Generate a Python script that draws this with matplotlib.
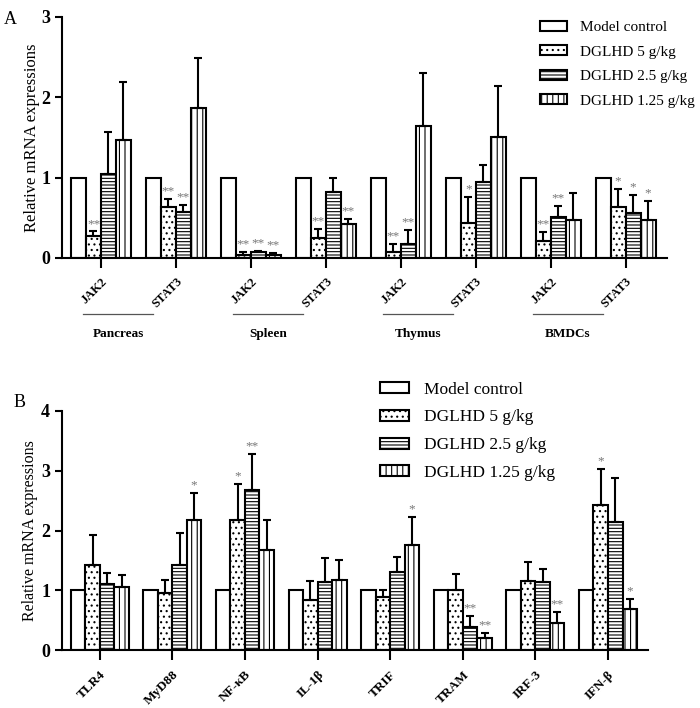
import numpy as np
import matplotlib
matplotlib.use('Agg')
import matplotlib.pyplot as plt
from matplotlib.patches import Patch

plt.rcParams['font.family'] = ['Liberation Serif', 'DejaVu Serif']
plt.rcParams['hatch.linewidth'] = 0.8

# ---- data ----
series = ['Model control', 'DGLHD 5 g/kg', 'DGLHD 2.5 g/kg', 'DGLHD 1.25 g/kg']
hatches = ['', '...', '-----', '|||']

# panel A
genes_a = ['JAK2', 'STAT3', 'JAK2', 'STAT3', 'JAK2', 'STAT3', 'JAK2', 'STAT3']
organs = ['Pancreas', 'Spleen', 'Thymus', 'BMDCs']
mc_a = [1, 1, 1, 1, 1, 1, 1, 1]
d5_a = [0.28, 0.64, 0.04, 0.25, 0.08, 0.44, 0.21, 0.64]
d25_a = [1.05, 0.57, 0.07, 0.82, 0.18, 0.95, 0.51, 0.56]
d125_a = [1.47, 1.87, 0.04, 0.42, 1.64, 1.51, 0.47, 0.47]
e5_a = [0.05, 0.10, 0.03, 0.11, 0.10, 0.32, 0.11, 0.22]
e25_a = [0.52, 0.09, 0.02, 0.18, 0.17, 0.21, 0.14, 0.22]
e125_a = [0.72, 0.62, 0.02, 0.06, 0.66, 0.63, 0.34, 0.24]
sig5_a = ['**', '**', '**', '**', '**', '*', '**', '*']
sig25_a = ['', '**', '**', '', '**', '', '**', '*']
sig125_a = ['', '', '**', '**', '', '', '', '*']

# panel B
genes_b = ['TLR4', 'MyD88', 'NF-κB', 'IL-1β', 'TRIF', 'TRAM', 'IRF-3', 'IFN-β']
mc_b = [1, 1, 1, 1, 1, 1, 1, 1]
d5_b = [1.43, 0.96, 2.18, 0.83, 0.89, 1.01, 1.16, 2.43]
d25_b = [1.11, 1.42, 2.68, 1.13, 1.31, 0.38, 1.14, 2.14]
d125_b = [1.06, 2.18, 1.68, 1.17, 1.76, 0.20, 0.45, 0.69]
e5_b = [0.50, 0.22, 0.60, 0.32, 0.12, 0.27, 0.32, 0.60]
e25_b = [0.18, 0.54, 0.60, 0.41, 0.25, 0.19, 0.21, 0.74]
e125_b = [0.20, 0.44, 0.50, 0.34, 0.46, 0.08, 0.19, 0.16]
sig5_b = ['', '', '*', '', '', '', '', '*']
sig25_b = ['', '', '**', '', '', '**', '', '']
sig125_b = ['', '*', '', '', '*', '**', '**', '*']

fig = plt.figure(figsize=(7.0, 7.08), dpi=100)
axA = fig.add_axes([0.0886, 0.6356, 0.864, 0.3404])
axB = fig.add_axes([0.0886, 0.0819, 0.837, 0.3376])

width = 0.2
offsets = [-0.3, -0.1, 0.1, 0.3]


def draw_panel(ax, genes, vals, errs, sigs, ymax, star_off):
    x = np.arange(len(genes))
    for i in range(4):
        xi = x + offsets[i]
        ax.bar(xi, vals[i], width, color='white', edgecolor='black',
               linewidth=1.5, hatch=hatches[i], zorder=2)
        if errs[i] is not None:
            ax.errorbar(xi, vals[i], yerr=[np.zeros(len(x)), errs[i]], fmt='none',
                        ecolor='black', elinewidth=1.5, capsize=3, capthick=1.5, zorder=3)
            for xx, v, e, s in zip(xi, vals[i], errs[i], sigs[i]):
                if s:
                    ax.text(xx, v + e + star_off, s, ha='center', va='bottom',
                            fontsize=9.5, color='#777777')
    ax.set_xlim(-0.52, len(genes) - 0.45)
    ax.set_ylim(0, ymax)
    ax.set_yticks(range(ymax + 1))
    ax.set_xticks(x)
    for s in ['top', 'right']:
        ax.spines[s].set_visible(False)
    for s in ['left', 'bottom']:
        ax.spines[s].set_linewidth(1.5)
    ax.tick_params(axis='y', width=1.5, length=5)
    ax.tick_params(axis='x', direction='out', width=1.5, length=7)
    for lab in ax.get_yticklabels():
        lab.set_fontweight('bold')
        lab.set_fontsize(13)


# ---- panel A ----
draw_panel(axA, genes_a, [mc_a, d5_a, d25_a, d125_a], [None, e5_a, e25_a, e125_a],
           [None, sig5_a, sig25_a, sig125_a], 3, 0.02)
axA.set_xticklabels(genes_a, rotation=45, ha='right', rotation_mode='anchor',
                    fontsize=9, fontweight='bold')
axA.tick_params(axis='x', pad=5.5)
axA.set_ylabel('Relative mRNA expressions', fontsize=12, labelpad=1)
for k, org in enumerate(organs):
    x0, x1 = 2 * k - 0.24, 2 * k + 0.70
    axA.plot([x0, x1], [-0.232, -0.232], color='#555555', lw=0.9,
             transform=axA.get_xaxis_transform(), clip_on=False)
    axA.text((x0 + x1) / 2, -0.315, org, ha='center', va='center', fontsize=9.5,
             fontweight='bold', transform=axA.get_xaxis_transform())
fig.text(0.006, 0.972, 'A', fontsize=13, ha='left', va='center')

handles = [Patch(facecolor='white', edgecolor='black', linewidth=1.5, hatch=h) for h in hatches]
fig.legend(handles, series, loc='upper left', bbox_to_anchor=(0.752, 0.99),
           frameon=False, fontsize=11, handlelength=1.75, handleheight=0.6,
           labelspacing=0.74, handletextpad=0.85)

# ---- panel B ----
draw_panel(axB, genes_b, [mc_b, d5_b, d25_b, d125_b], [None, e5_b, e25_b, e125_b],
           [None, sig5_b, sig25_b, sig125_b], 4, 0.03)
axB.set_xticklabels(genes_b, rotation=45, ha='right', rotation_mode='anchor',
                    fontsize=9.6, fontweight='bold')
axB.tick_params(axis='x', pad=6.5)
axB.set_ylabel('Relative mRNA expressions', fontsize=11.5, labelpad=2)
fig.text(0.02, 0.431, 'B', fontsize=13, ha='left', va='center')
fig.legend(handles, series, loc='upper left', bbox_to_anchor=(0.52, 0.483),
           frameon=False, fontsize=12.5, handlelength=1.67, handleheight=0.6,
           labelspacing=0.68, handletextpad=0.86)

fig.savefig('out.png', dpi=100)
